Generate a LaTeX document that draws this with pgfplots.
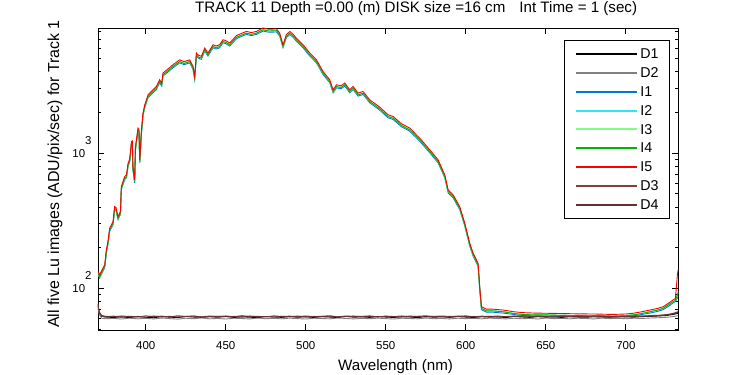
\documentclass[border=0pt]{standalone}
\usepackage{pgfplots}
\pgfplotsset{compat=1.18}
\usepackage{pgfplotstable}
\usepackage{fontspec}
\setmainfont{Liberation Sans}
\definecolor{cD2}{RGB}{128,128,128}
\definecolor{cI1}{RGB}{0,115,230}
\definecolor{cI2}{RGB}{50,230,240}
\definecolor{cI3}{RGB}{128,255,128}
\definecolor{cI4}{RGB}{0,180,0}
\definecolor{cI5}{RGB}{255,0,0}
\definecolor{cD3}{RGB}{128,64,64}
\definecolor{cD4}{RGB}{100,50,50}

\pgfplotstableread{
x hi g b
370.3 133 129 126
371.2 125 121 119
372.5 135 131 128
374.4 149 145 142
375.4 192 186 182
376.5 225 218 214
377.5 278 270 264
379.6 311 302 295
380.6 402 390 382
381.5 395 383 375
382.7 339 329 322
384.2 369 358 351
384.8 567 550 539
386.9 671 651 637
388.0 690 669 656
389.0 843 818 801
390.0 900 873 855
391.1 1218 1181 1157
391.7 1230 1193 1169
392.0 795 771 755
393.1 634 615 602
393.6 1100 1067 1045
394.2 1255 1217 1192
395.2 1531 1485 1454
395.8 1500 1455 1425
396.3 892 865 847
397.3 1445 1402 1373
398.3 1977 1918 1878
399.4 2279 2211 2165
401.5 2704 2623 2569
404.0 2900 2813 2755
406.7 3113 3020 2957
408.7 3490 3385 3316
410.0 3300 3201 3135
410.8 3916 3799 3720
414.0 4200 4074 3990
417.1 4510 4375 4285
421.2 4900 4753 4655
424.0 4750 4608 4513
427.5 4900 4753 4655
429.6 4375 4244 4156
430.6 3690 3579 3506
431.7 5500 5335 5225
433.0 5300 5141 5035
434.8 5200 5044 4940
436.9 5995 5815 5695
438.9 5500 5335 5225
442.1 6340 6150 6023
444.0 6200 6014 5890
446.2 6340 6150 6023
448.3 6900 6693 6555
450.0 6800 6596 6460
452.5 6530 6334 6204
456.7 7400 7178 7030
460.0 7700 7469 7315
462.9 7950 7712 7553
466.0 7800 7566 7410
469.2 7950 7712 7553
473.3 8430 8177 8009
477.0 8250 8003 7838
481.7 8300 8051 7885
483.7 7740 7508 7353
485.8 6340 6150 6023
487.9 7520 7294 7144
490.0 7950 7712 7553
492.0 7600 7372 7220
494.2 7080 6868 6726
498.3 6340 6150 6023
502.5 5500 5335 5225
506.7 4900 4753 4655
510.8 4020 3899 3819
515.0 3490 3385 3316
517.1 2940 2852 2793
519.2 3205 3109 3045
522.0 3150 3056 2993
524.4 3300 3201 3135
527.5 2940 2852 2793
529.6 3113 3020 2957
532.7 2780 2697 2641
535.8 2860 2774 2717
540.0 2480 2406 2356
546.2 2190 2124 2081
551.4 1923 1865 1827
554.6 1866 1810 1773
559.8 1650 1601 1568
565.0 1531 1485 1454
571.2 1291 1252 1226
577.5 1058 1026 1005
582.7 892 865 847
586.9 690 669 656
589.0 534 518 507
592.1 491 476 466
596.2 402 390 382
599.4 303 294 288
602.5 215 209 204
604.6 182 177 173
607.7 153 148 145
608.7 103 100 98
609.8 73 71 69.5
612.9 70 68 66.5
617.0 70 68 66.5
623.3 69 67 65.5
630.0 67 65 64
635.8 66 64 63
643.0 65.5 63.5 62.5
650.4 65.3 63.5 62.5
660.0 65 63 62
671.2 64.6 62.7 61.5
680.0 64.5 62.6 61.5
692.0 64 62 61
700.0 64.5 62.6 61.5
704.6 65.3 63.5 62.5
710.0 67 65 64
715.0 69 67 65.5
720.0 71 69 67.5
723.3 73 71 69.5
727.0 78 76 74
729.6 82 79.5 78
731.0 84 81.5 80
732.3 129 90 85
733.0 140 95 88
}\sig

\pgfplotstableread{
x D1 D2 D3 D4
370 76 72 78 77
371 66 64 67 66
372.5 62 60 63 62
375 61.2 59.5 62.0 61.5
380 60.8 59.8 61.6 62.2
385 61.5 59.2 62.4 61.0
390 60.6 60.1 61.8 62.0
395 61.9 59.4 61.2 61.6
400 61.0 59.9 62.5 61.1
405 60.5 59.3 61.7 62.3
410 61.7 60.2 62.2 61.4
415 61.1 59.6 61.4 62.0
420 60.7 59.1 62.6 61.3
425 61.8 60.0 61.9 61.8
430 61.2 59.5 62.1 62.4
435 60.9 60.3 61.5 61.2
440 61.6 59.4 62.3 61.7
445 61.0 59.8 61.8 62.1
450 61.9 59.2 62.4 61.5
455 60.8 60.0 61.6 61.9
460 61.4 59.7 62.7 61.3
465 61.1 59.3 61.9 62.2
470 60.6 60.2 62.0 61.6
475 61.8 59.5 61.3 61.8
480 61.3 59.9 62.5 61.2
485 60.9 59.4 61.8 62.0
490 61.7 60.1 62.2 61.5
495 61.0 59.6 61.6 62.3
500 61.5 59.2 62.4 61.4
505 60.8 60.0 61.7 61.9
510 61.6 59.7 62.1 61.6
515 61.2 59.4 62.6 62.1
520 60.7 60.2 61.5 61.3
525 61.9 59.8 62.3 61.8
530 61.1 59.3 61.9 62.2
535 61.4 59.9 62.0 61.5
540 60.9 59.5 62.5 61.9
545 61.7 60.1 61.4 61.4
550 61.2 59.6 62.2 62.0
555 60.8 59.2 61.8 61.6
560 61.6 60.0 62.4 61.2
565 61.3 59.7 61.6 62.3
570 60.6 59.4 62.1 61.7
575 61.8 60.2 62.6 61.4
580 61.0 59.5 61.7 62.1
585 61.5 59.8 62.3 61.8
590 60.9 59.3 61.9 61.3
595 61.7 60.0 62.0 62.2
600 61.2 59.6 62.5 61.6
605 60.8 59.9 61.5 61.9
610 61.6 59.4 62.2 61.5
615 61.1 60.1 61.8 62.0
620 61.4 59.7 62.4 61.3
625 60.7 59.3 61.6 61.8
630 61.8 60.0 62.1 62.2
635 61.3 59.5 62.7 61.6
640 60.9 59.8 61.9 61.4
645 61.6 59.2 62.3 62.0
650 61.1 60.2 61.7 61.7
655 61.5 59.6 62.4 61.2
660 60.8 59.9 62.0 62.1
665 61.7 59.4 61.6 61.5
670 61.2 60.0 62.5 61.9
675 61.0 59.7 61.8 61.4
680 61.6 59.3 62.2 62.2
685 61.3 60.1 62.6 61.7
690 60.9 59.6 61.9 61.9
695 61.8 59.9 62.3 61.5
700 61.4 59.5 62.0 62.1
705 61.1 60.0 62.5 61.8
710 61.7 59.8 62.2 62.4
715 61.9 60.2 62.8 62.0
720 62.3 60.5 63.1 62.6
725 62.8 60.9 63.8 63.3
728 63.6 61.4 64.6 64.2
731 64.5 62.1 66.0 65.3
733 65.5 62.8 67.5 66.8
}\dark

\begin{document}
\begin{tikzpicture}
\useasboundingbox (-98bp,-45bp) rectangle (652bp,330bp);
\begin{axis}[
  scale only axis, width=580bp, height=302bp,
  ymode=log,
  xmin=370.2, xmax=732.6, ymin=49.1, ymax=8430,
  xtick={400,450,500,550,600,650,700},
  ytick={100,1000},
  yticklabels={10\raisebox{13bp}[0pt][0pt]{2},10\raisebox{13bp}[0pt][0pt]{3}},
  minor ytick={50,60,70,80,90,200,300,400,500,600,700,800,900,2000,3000,4000,5000,6000,7000,8000},
  tick align=inside,
  major tick length=6.5bp, minor tick length=3.5bp,
  every tick/.style={black, line width=0.7bp},
  axis line style={line width=0.8bp},
  tick label style={font=\fontsize{11.5}{13}\selectfont},
  xticklabel style={anchor=base, inner sep=0pt, yshift=-19.7bp},
  yticklabel style={anchor=east, inner sep=0pt, xshift=-6.3bp},
  /pgf/number format/assume math mode=true,
  xlabel={Wavelength (nm)},
  ylabel={All five Lu images (ADU/pix/sec) for Track 1},
  x label style={font=\fontsize{15.2}{17}\selectfont, at={(axis description cs:0.4138,-0.1325)}, anchor=base west, inner sep=0pt},
  y label style={font=\fontsize{16}{17}\selectfont, at={(axis description cs:-0.0741,0.5166)}, anchor=center, inner sep=0pt},
  title={TRACK 11 Depth =0.00 (m) DISK size =16 cm\hspace{14bp}Int Time = 1 (sec)},
  title style={font=\fontsize{15.2}{17}\selectfont, at={(axis description cs:0.1672,1.0321)}, anchor=base west, inner sep=0pt},
  legend style={at={(axis description cs:0.8034,0.9603)}, anchor=north west, draw=black, line width=0.8bp,
    font=\fontsize{14.3}{16}\selectfont, inner xsep=11bp, inner ysep=7.2bp,
    nodes={inner xsep=0bp, inner ysep=0bp, text height=11.3bp, text depth=1.8bp},
    column sep=2bp, row sep=5.7bp,
    cells={anchor=west}},
  legend image code/.code={\draw[line width=2bp, #1] (0bp,0bp) -- (61bp,0bp);},
  every axis plot/.append style={line width=0.9bp},
]
\addplot[color=black] table[x=x,y=D1] {\dark};
\addplot[color=cD2] table[x=x,y=D2] {\dark};
\addplot[color=cI1] table[x=x,y=b] {\sig};
\addplot[color=cI2] table[x=x,y=g] {\sig};
\addplot[color=cI3] table[x=x,y=g] {\sig};
\addplot[color=cI4] table[x=x,y=g] {\sig};
\addplot[color=cI5] table[x=x,y=hi] {\sig};
\addplot[color=cD3] table[x=x,y=D3] {\dark};
\addplot[color=cD4] table[x=x,y=D4] {\dark};
\legend{\makebox[13.5bp][l]{D1},D2,I1,I2,I3,I4,I5,D3,D4}
\end{axis}
\end{tikzpicture}
\end{document}
